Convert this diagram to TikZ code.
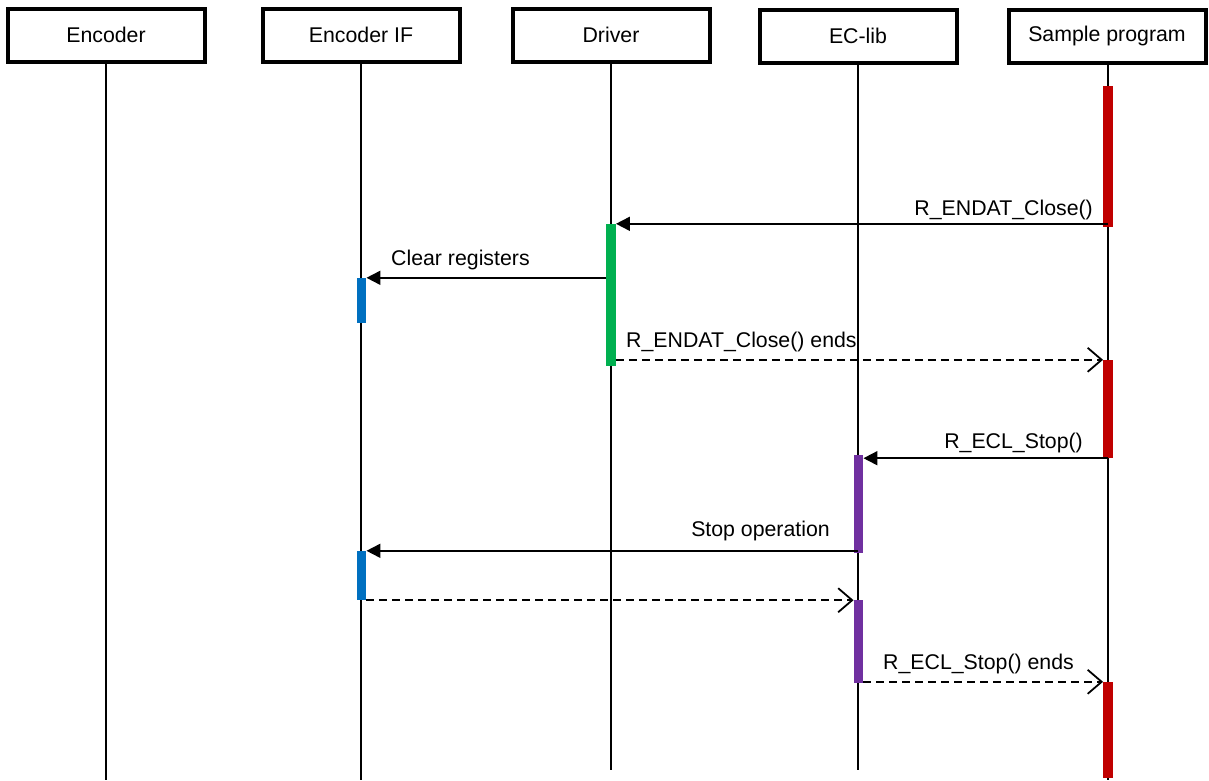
\documentclass[tikz,border=0pt]{standalone}
\usepackage{fontspec}
\setmainfont{Liberation Sans}
\usetikzlibrary{arrows.meta}
\definecolor{cred}{HTML}{C00000}
\definecolor{cgreen}{HTML}{00B050}
\definecolor{cblue}{HTML}{0070C0}
\definecolor{cpurple}{HTML}{7030A0}
\tikzset{
  head/.style={draw, line width=4pt, minimum width=197pt, minimum height=53pt, inner sep=0pt, fill=white, font=\fontsize{21.3}{25}\selectfont},
  life/.style={line width=1.7pt},
  bar/.style={fill=#1, draw=none, minimum width=9.5pt, inner sep=0pt},
  call/.style={line width=1.8pt, -{Triangle[length=14pt,width=14pt]}},
  ret/.style={line width=1.6pt, dash pattern=on 8pt off 5pt, -{Straight Barb[length=14pt,width=24pt,line width=1.8pt]}},
  lbl/.style={inner sep=0pt, font=\fontsize{21.3}{25}\selectfont}
}
\begin{document}
\begin{tikzpicture}[x=1pt,y=-1pt]
\useasboundingbox (0,0) rectangle (1209,780);
% headers
\node[head] (enc) at (106,35) {Encoder};
\node[head] (eif) at (361,35) {Encoder IF};
\node[head] (drv) at (611,35) {Driver};
\node[head] (ecl) at (858,36) {EC-lib};
\node[head] (sp) at (1107,36) {Sample program};
% lifeline ends
\coordinate (encE) at (106,780);
\coordinate (eifE) at (361,780);
\coordinate (drvE) at (611,770);
\coordinate (eclE) at (858,770);
\coordinate (spE) at (1108,780);
\draw[life] (enc.south) -- (encE);
\draw[life] (eif.south) -- (eifE);
\draw[life] (drv.south) -- (drvE);
\draw[life] (ecl.south) -- (eclE);
\draw[life] (sp.south -| spE) -- (spE);
% activation bars
\node[bar=cred, minimum height=141pt] (r1) at (1108,156.5) {};
\node[bar=cgreen, minimum height=142pt] (g1) at (611,295) {};
\node[bar=cblue, minimum height=45pt] (b1) at (361.5,300.5) {};
\node[bar=cred, minimum height=98pt] (r2) at (1108,409) {};
\node[bar=cpurple, minimum height=98pt] (p1) at (858.5,504) {};
\node[bar=cblue, minimum height=49pt] (b2) at (361.5,575.5) {};
\node[bar=cpurple, minimum height=83pt] (p2) at (858.5,641.5) {};
\node[bar=cred, minimum height=96pt] (r3) at (1108,730) {};
% messages
\draw[call] (g1.north east -| spE) -- (g1.north east);
\node[lbl, anchor=base east] (m1) at (1093,215) {R\_ENDAT\_Close()};
\draw[call] (b1.north east -| g1.west) -- (b1.north east);
\node[lbl, anchor=base west] (m2) at (391,265) {Clear registers};
\draw[ret] (r2.north west -| g1.east) -- (r2.north west);
\node[lbl, anchor=base west] (m3) at (626,347) {R\_ENDAT\_Close() ends};
\draw[call] (r2.south) -- (r2.south -| p1.east);
\node[lbl, anchor=base east] (m4) at (1083,448) {R\_ECL\_Stop()};
\draw[call] (b2.north east -| eclE) -- (b2.north east);
\node[lbl, anchor=base east] (m5) at (830,536) {Stop operation};
\draw[ret] (b2.south east) -- (b2.south east -| p2.west);
\draw[ret] (r3.north west -| p2.east) -- (r3.north west);
\node[lbl, anchor=base west] (m7) at (883,669) {R\_ECL\_Stop() ends};
\end{tikzpicture}
\end{document}
